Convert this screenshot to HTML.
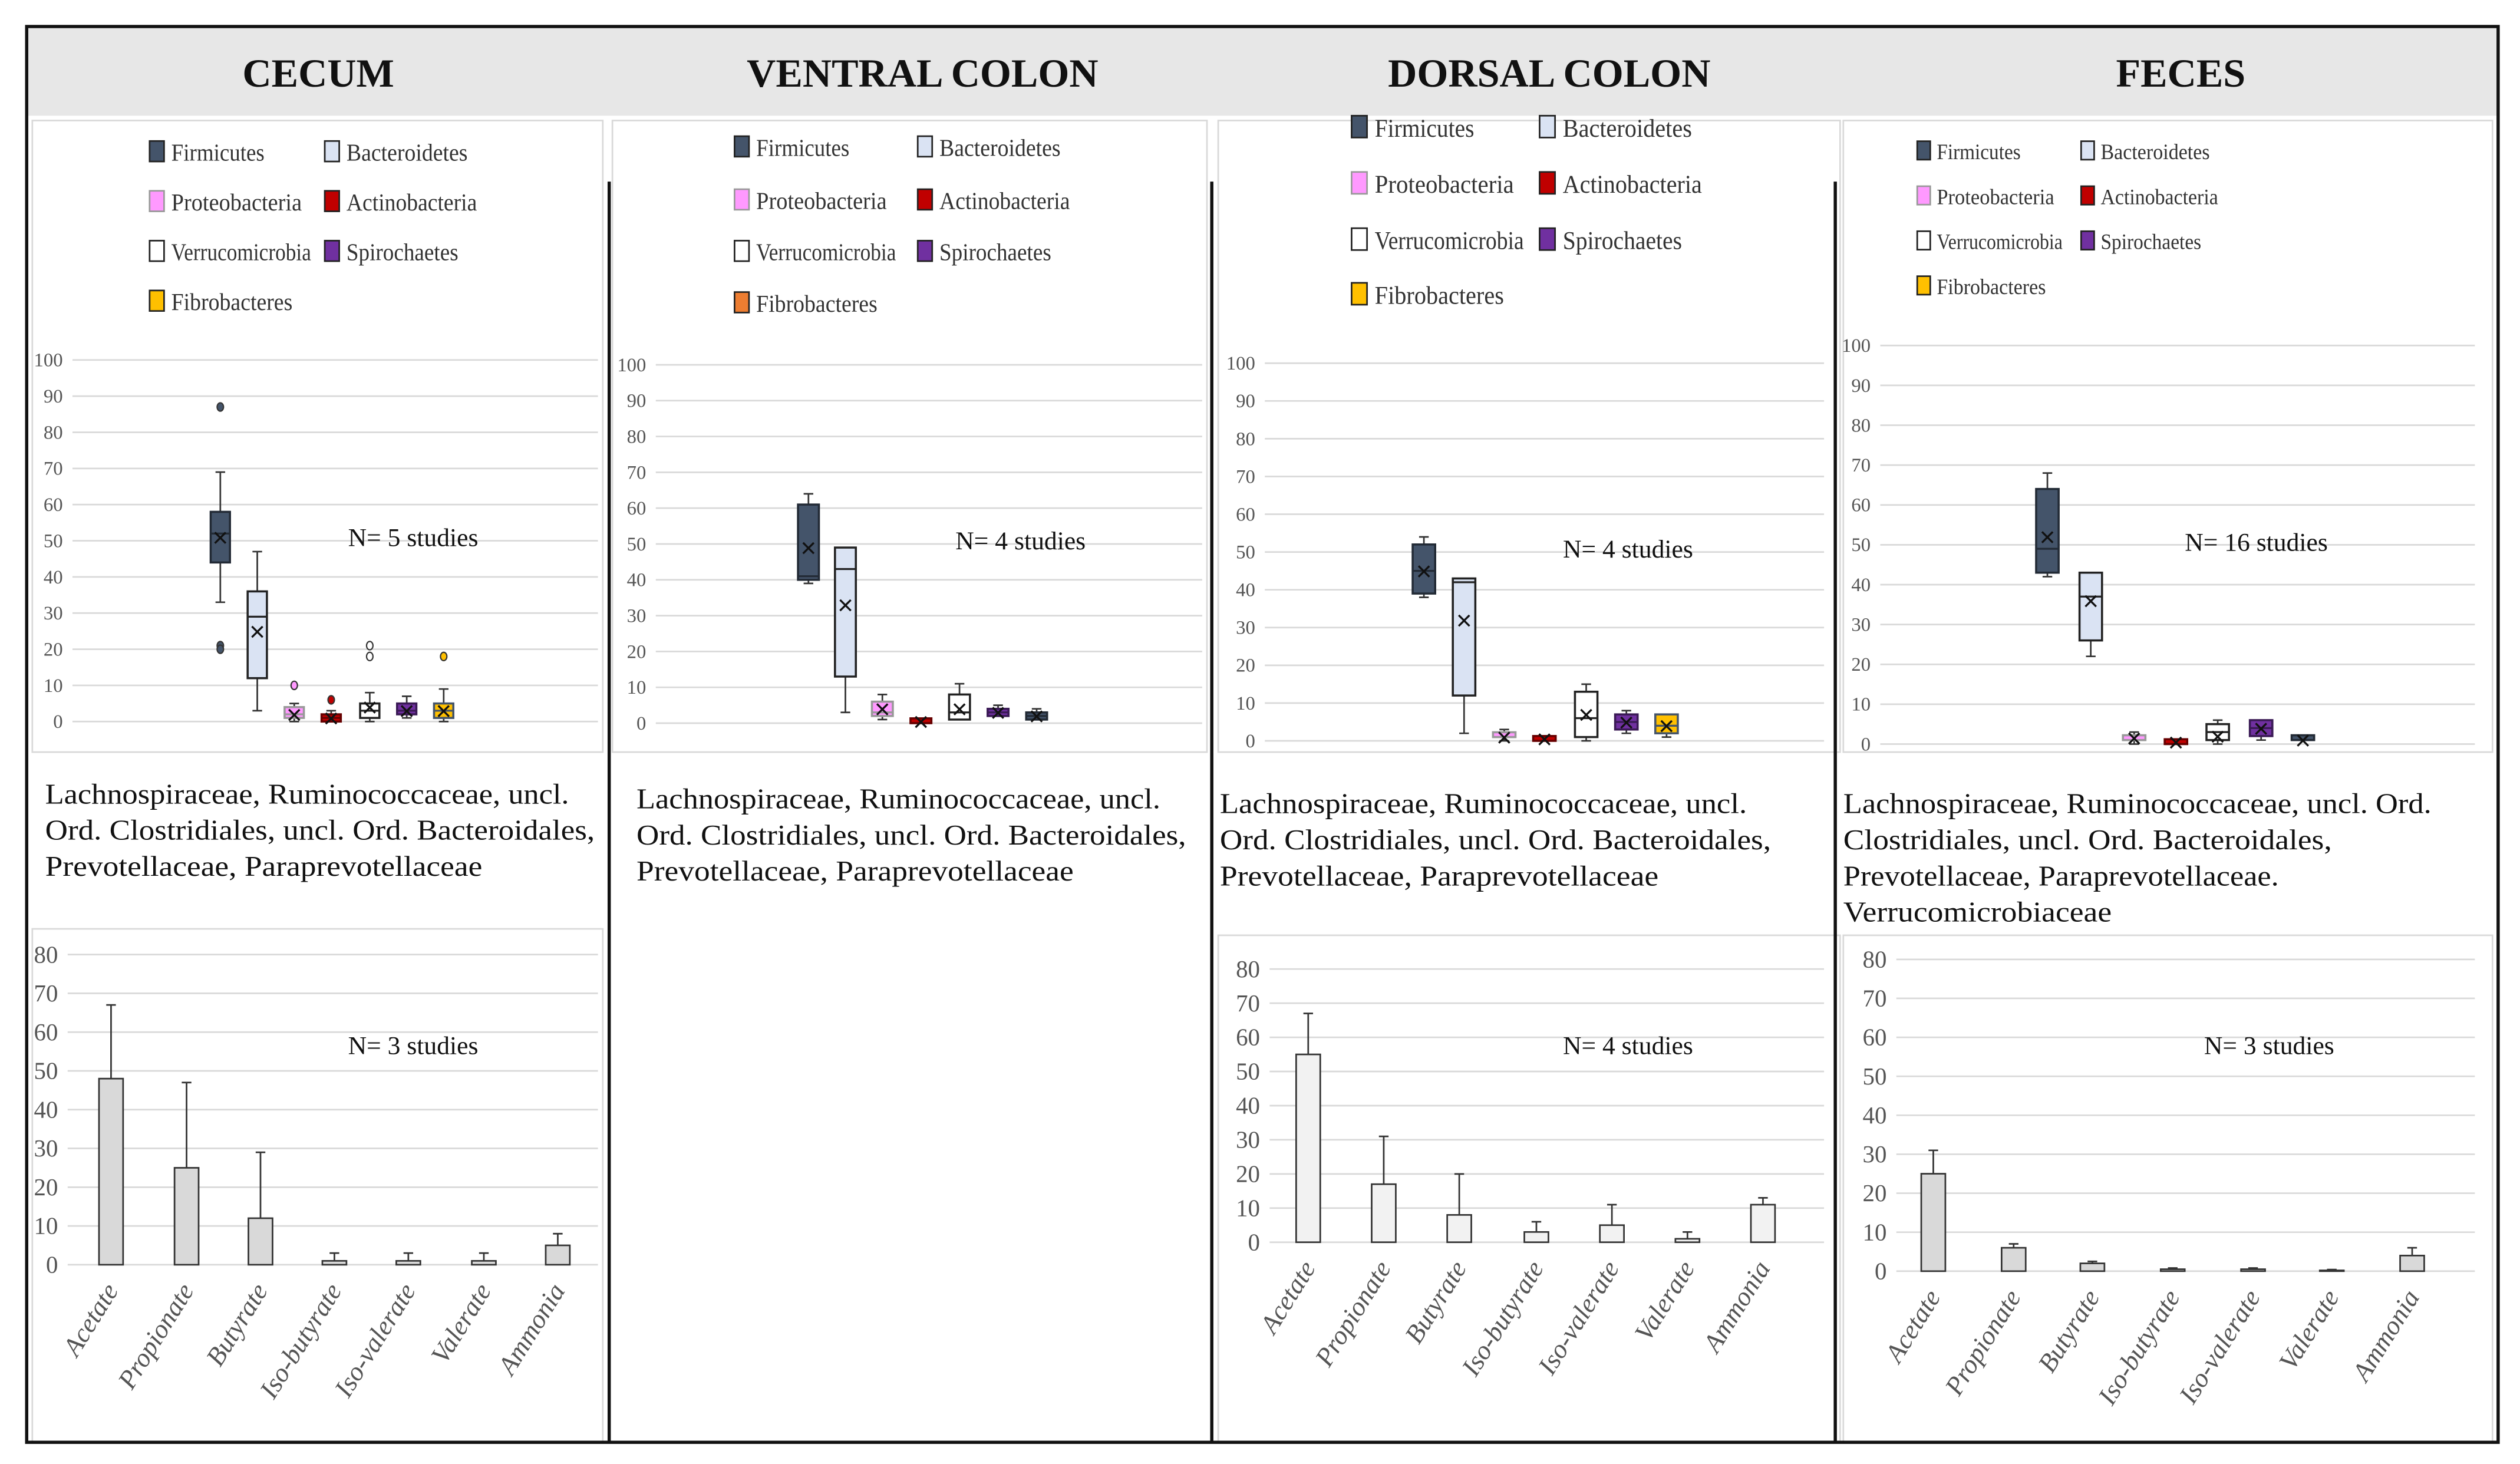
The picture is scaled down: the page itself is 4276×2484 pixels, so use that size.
<!DOCTYPE html>
<html><head><meta charset="utf-8">
<style>
html,body{margin:0;padding:0;background:#fff;}
svg{display:block;font-family:"Liberation Serif",serif;}
</style></head>
<body>
<svg id="fig" width="4276" height="2484" viewBox="0 0 1568 911" xmlns="http://www.w3.org/2000/svg">
<rect x="0" y="0" width="1568" height="911" fill="#fff"/>
<g id="root"></g>
</svg>
<script>
// ---------- DATA ----------
const phyla = ["Firmicutes","Bacteroidetes","Proteobacteria","Actinobacteria","Verrucomicrobia","Spirochaetes","Fibrobacteres"];
// [min, q1, median, q3, max, mean]
const cecumBoxes = [[33,44,52,58,69,51],[3,12,29,36,47,25],[0,1,2,4,5,2],[0,0,1,2,3,1],[0,1,3,5,8,4],[1,2,3,5,7,3],[0,1,3,5,9,3]];
const cecumOutliers = [[87,21,20],[],[10],[6],[21,18],[],[18]];
const ventralBoxes = [[39,40,41,61,64,49],[3,13,43,49,49,33],[1,2,3,6,8,4],[0,0,0,1,1,0.5],[1,1,3,8,11,4],[2,2,3,4,5,3],[1,1,2,3,4,2]];
const dorsalBoxes = [[38,39,45,52,54,45],[2,12,42,43,43,32],[0,1,1,2,3,1],[0,0,0,1,1,0.5],[0,1,6,13,15,7],[2,3,5,7,8,5],[1,2,4,7,7,4]];
const fecesBoxes = [[42,43,49,64,68,52],[22,26,37,43,43,36],[0,1,1,2,3,1.5],[0,0,0,1,1,0.5],[0,1,3,5,6,2],[1,2,4,6,6,4],[1,1,1,2,2,1]];
const boxTicks = [0,10,20,30,40,50,60,70,80,90,100];

const acids = ["Acetate","Propionate","Butyrate","Iso-butyrate","Iso-valerate","Valerate","Ammonia"];
const cecumAcid = [48,25,12,1,1,1,5];
const cecumAcidErr = [67,47,29,3,3,3,8];
const dorsalAcid = [55,17,8,3,5,1,11];
const dorsalAcidErr = [67,31,20,6,11,3,13];
const fecesAcid = [25,6,2,0.5,0.5,0.2,4];
const fecesAcidErr = [31,7,2.5,0.8,0.8,0.4,6];
const acidTicks = [0,10,20,30,40,50,60,70,80];

// ---------- helpers ----------
const NS="http://www.w3.org/2000/svg";
const root=document.getElementById('root');
function el(tag,attrs,parent,text){const e=document.createElementNS(NS,tag);for(const k in attrs)e.setAttribute(k,attrs[k]);if(text!==undefined)e.textContent=text;(parent||root).appendChild(e);return e;}
const fillColors=["#44546a","#dae3f3","#ff99ff","#c00000","#ffffff","#7030a0","#ffc000"];
const strokeColors=["#222a35","#222","#999","#600","#222","#3a1a55","#44546a"];

// frame
let g=el('g',{});


el('rect',{x:17,y:17,width:1537,height:55,fill:'#e7e7e7'},g);
const titles=[["CECUM",198],["VENTRAL COLON",574],["DORSAL COLON",964],["FECES",1357]];
titles.forEach(t=>{const e=el('text',{x:t[1],y:54,'text-anchor':'middle','font-size':25,'font-weight':'bold',fill:'#111'},root,t[0]);

});
[[20,75,355,393],[381,75,370,393],[758,75,387,393],[1147,75,404,393],[20,578,355,319],[758,582,387,315],[1147,582,404,315]].forEach(r=>{
el('rect',{x:r[0],y:r[1],width:r[2],height:r[3],fill:'none',stroke:'#d9d9d9','stroke-width':1});});
[379,754,1142].forEach(x=>{const l=el('line',{x1:x,y1:113,x2:x,y2:897,stroke:'#111','stroke-width':2});

});
el('rect',{x:16.5,y:16.5,width:1538,height:881,fill:'none',stroke:'#111','stroke-width':2});

function legend(cols,rows,fs,fibColor,name){
  const lg=el('g',{});
  
  
  phyla.forEach((p,i)=>{
    const x=cols[i%2], y=rows[Math.floor(i/2)];
    let fc=fillColors[i]; if(i==6&&fibColor) fc=fibColor;
    el('rect',{x:x,y:y-fs*0.75,width:fs*0.6,height:fs*0.85,fill:fc,stroke:i==2?'#999':'#222','stroke-width':1},lg);
    el('text',{x:x+fs*0.9,y:y+1,'font-size':fs,fill:'#333',textLength:(p.length*5.8*fs/15).toFixed(1),lengthAdjust:'spacingAndGlyphs'},lg,p);
  });
}
legend([93,202],[99,130,161,192],15,null,'cecum-legend');
legend([457,571],[96,129,161,193],15,'#ed7d31','ventral-legend');
legend([841,958],[84,119,154,188],16,null,'dorsal-legend');
legend([1193,1295],[98,126,154,182],13.5,null,'feces-legend');

function boxChart(name,boxes,outliers,x0,x1,y0,y100,xs,bw,fibFill,n,nx){
  const cg=el('g',{});
  
  
  const sy=v=>y0-(y0-y100)*v/100;
  boxTicks.forEach(t=>{
    el('line',{x1:x0,y1:sy(t),x2:x1,y2:sy(t),stroke:'#d9d9d9','stroke-width':1},cg);
    el('text',{x:x0-6,y:sy(t)+4,'text-anchor':'end','font-size':12,fill:'#555'},cg,t);
  });
  boxes.forEach((b,i)=>{
    const x=xs[i]; let fc=fillColors[i]; let sc=strokeColors[i];
    if(i==6&&fibFill){fc=fibFill;sc='#222a35';}
    const bg=el('g',{},cg);
    
    
    el('line',{x1:x,y1:sy(b[0]),x2:x,y2:sy(b[4]),stroke:'#333','stroke-width':1},bg);
    el('line',{x1:x-3,y1:sy(b[0]),x2:x+3,y2:sy(b[0]),stroke:'#333','stroke-width':1},bg);
    el('line',{x1:x-3,y1:sy(b[4]),x2:x+3,y2:sy(b[4]),stroke:'#333','stroke-width':1},bg);
    const h=Math.max(sy(b[1])-sy(b[3]),3);
    el('rect',{x:x-bw/2,y:sy(b[1])-h,width:bw,height:h,fill:fc,stroke:sc,'stroke-width':1.3},bg);
    el('line',{x1:x-bw/2,y1:sy(b[2]),x2:x+bw/2,y2:sy(b[2]),stroke:sc,'stroke-width':1.2},bg);
    el('text',{x:x,y:sy(b[5])+6,'text-anchor':'middle','font-size':17,fill:'#111','font-family':'Liberation Sans, sans-serif'},bg,'×');
    (outliers&&outliers[i]||[]).forEach(o=>{
      el('ellipse',{cx:x,cy:sy(o),rx:2,ry:2.6,fill:fc,stroke:'#333','stroke-width':0.8},bg);
    });
  });
  el('text',{x:nx,y:sy(0)-(sy(0)-sy(100))*0.485,'text-anchor':'middle','font-size':16,fill:'#111'},cg,n);
}
boxChart('cecum-boxplot',cecumBoxes,cecumOutliers,45,372,449,224,[137,160,183,206,230,253,276],12,null,'N= 5 studies',257);
boxChart('ventral-boxplot',ventralBoxes,null,408,748,450,227,[503,526,549,573,597,621,645],13,'#44546a','N= 4 studies',635);
boxChart('dorsal-boxplot',dorsalBoxes,null,787,1135,461,226,[886,911,936,961,987,1012,1037],14,null,'N= 4 studies',1013);
boxChart('feces-boxplot',fecesBoxes,null,1170,1540,463,215,[1274,1301,1328,1354,1380,1407,1433],14,'#44546a','N= 16 studies',1404);

function para(lines,widths,x,y,lh,name){
  const tg=el('g',{});
  
  
  lines.forEach((l,i)=>el('text',{x:x,y:y+i*lh,'font-size':18,fill:'#111',textLength:widths[i],lengthAdjust:'spacingAndGlyphs'},tg,l));
}
const L3=["Lachnospiraceae, Ruminococcaceae, uncl.","Ord. Clostridiales, uncl. Ord. Bacteroidales,","Prevotellaceae, Paraprevotellaceae"];
para(L3,[326,342,272],28,500,22.5,'cecum-families');
para(L3,[326,342,272],396,503,22.5,'ventral-families');
para(L3,[328,343,273],759,506,22.5,'dorsal-families');
para(["Lachnospiraceae, Ruminococcaceae, uncl. Ord.","Clostridiales, uncl. Ord. Bacteroidales,","Prevotellaceae, Paraprevotellaceae.","Verrucomicrobiaceae"],[366,304,271,167],1147,506,22.5,'feces-families');

function barChart(name,vals,errs,x0,x1,y0,y80,xs,bw,fill,n,nx,ny){
  const cg=el('g',{});
  
  
  const sy=v=>y0-(y0-y80)*v/80;
  acidTicks.forEach(t=>{
    el('line',{x1:x0,y1:sy(t),x2:x1,y2:sy(t),stroke:'#d9d9d9','stroke-width':1},cg);
    el('text',{x:x0-6,y:sy(t)+5,'text-anchor':'end','font-size':15,fill:'#555'},cg,t);
  });
  vals.forEach((v,i)=>{
    const x=xs[i];
    const bg=el('g',{},cg);
    
    
    el('rect',{x:x-bw/2,y:sy(v),width:bw,height:sy(0)-sy(v),fill:fill,stroke:'#333','stroke-width':1},bg);
    el('line',{x1:x,y1:sy(v),x2:x,y2:sy(errs[i]),stroke:'#333','stroke-width':1},bg);
    el('line',{x1:x-3,y1:sy(errs[i]),x2:x+3,y2:sy(errs[i]),stroke:'#333','stroke-width':1},bg);
    el('text',{x:0,y:0,'text-anchor':'end','font-size':16.5,'font-style':'italic',fill:'#555',transform:`translate(${x+5},${y0+16}) rotate(-58)`},bg,acids[i]);
  });
  el('text',{x:nx,y:ny,'text-anchor':'middle','font-size':16,fill:'#111'},cg,n);
}
barChart('cecum-acid-chart',cecumAcid,cecumAcidErr,42,372,787,594,[69,116,162,208,254,301,347],15,'#d9d9d9','N= 3 studies',257,656);
barChart('dorsal-acid-chart',dorsalAcid,dorsalAcidErr,790,1135,773,603,[814,861,908,956,1003,1050,1097],15,'#f2f2f2','N= 4 studies',1013,656);
barChart('feces-acid-chart',fecesAcid,fecesAcidErr,1180,1540,791,597,[1203,1253,1302,1352,1402,1451,1501],15,'#d9d9d9','N= 3 studies',1412,656);
</script>
</body></html>
